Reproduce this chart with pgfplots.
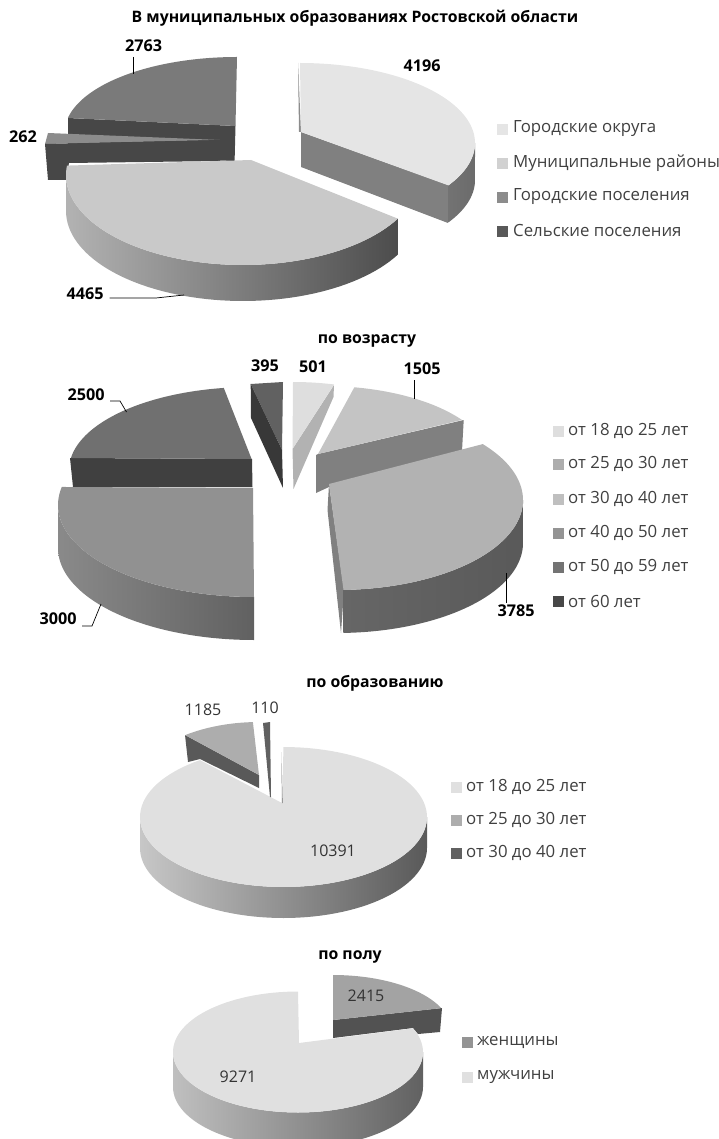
\documentclass[border=0pt]{standalone}
\usepackage{fontspec}
\setmainfont{Open Sans}
\usepackage{pgfplots}
\pgfplotsset{compat=1.18}
% top face: apex ax,ay; ellipse ex,ey,rx,ry; angles t1,t2; colour
\newcommand{\topf}[9]{\addplot[fill=#9,draw=none,domain=-0.1:1,samples=111]
 ({x<-0.05 ? #1 : #3+#5*cos(#7+(#8-#7)*max(x,0))},{x<-0.05 ? #2 : #4+#6*sin(#7+(#8-#7)*max(x,0))});}
% outer wall: ry, ex,ey,rx; t1,t2; depth; shading colours as option
\newcommand{\wall}[8]{\addplot[draw=none,#8,domain=0:2,samples=121]
 ({#2+#4*cos(#5+(#6-#5)*min(x,2-x))},{#3+#1*sin(#5+(#6-#5)*min(x,2-x))+(x>1?#7:0)});}
\newcommand{\face}[2]{\addplot[fill=#1,draw=none] coordinates {#2};}
\newcommand{\lead}[1]{\addplot[black,line width=0.7pt] coordinates {#1};}
\newcommand{\lab}[3]{\node[font=\fontsize{16.2}{18}\selectfont\bfseries] at (axis cs:#1,#2) {#3};}
\newcommand{\num}[3]{\node[font=\fontsize{16}{18}\selectfont,text=black!80] at (axis cs:#1,#2) {#3};}
\newcommand{\ttl}[3]{\node[font=\fontsize{15.8}{17}\selectfont\bfseries] at (axis cs:#1,#2) {#3};}
\newcommand{\leg}[5]{\addplot[only marks,mark=square*,mark size=5pt,color=#4,mark options={draw=none,fill=#4}] coordinates {(#1,#3)};
 \node[font=\fontsize{16.8}{18}\selectfont,anchor=west,text=black!75,inner sep=0pt] at (axis cs:#2,#3) {#5};}
\begin{document}
\begin{tikzpicture}
\path[use as bounding box] (0,0) rectangle (719pt,1139pt);
\begin{axis}[at={(0,0)},anchor=south west,scale only axis,width=719pt,height=1139pt,xmin=0,xmax=719,ymin=0,ymax=1139,y dir=reverse,hide axis]
% ---- Pie 1
\face{black!72}{(68,118)(235.5,126)(234.6,161)(68,156)}
\topf{235.5}{126}{237}{133}{172.5}{76}{191.4}{270}{black!52}
\face{black!45}{(48,133)(220,140)(45,144)}
\face{black!72}{(45,144)(220,140)(220,161)(69,163)(66,180)(48,180)}
\wall{90}{243}{175}{177}{29}{180}{36}{left color=black!30,middle color=black!45,right color=black!70}
\topf{251}{160}{243}{175}{177}{90}{29}{186}{black!21}
\face{black!45}{(298,63)(301,132)(299,132)}
\face{black!50}{(301,132)(451,186)(448,223)(301,167)}
\wall{80}{300}{143}{175}{32}{0}{37}{left color=black!55,right color=black!58}
\topf{301}{132}{300}{143}{175}{80}{-90}{32}{black!10}
\lead{(133,57)(133,74)}
\lead{(109.5,298)(156,298)(184,295)}
\lab{422}{66}{4196}\lab{143.5}{46}{2763}\lab{23}{137}{262}\lab{85}{294}{4465}
\ttl{355}{18}{В муниципальных образованиях Ростовской области}
\leg{502}{513}{129}{black!10}{Городские округа}
\leg{502}{513}{163}{black!18}{Муниципальные районы}
\leg{502}{513}{197}{black!45}{Городские поселения}
\leg{502}{513}{231}{black!65}{Сельские поселения}
% ---- Pie 2
\face{black!75}{(70,458)(252,459)(252.5,487)(73,487)}
\topf{251.6}{459}{251}{470}{182}{83}{188.3}{261.4}{black!56}
\wall{92}{254}{505}{196}{90}{180}{43}{left color=black!46,right color=black!62}
\topf{253}{488}{254}{505}{196}{92}{90}{191.3}{black!43}
\face{black!62}{(250.7,384)(283,382)(282,450)}
\face{black!78}{(250.7,384)(282,450)(283,488)(251,418)}
\face{black!30}{(292.5,449)(334,385)(333.5,397)(293.5,489)}
\topf{292.5}{449}{293}{465}{170}{83}{270}{284}{black!13}
\face{black!50}{(318,454)(463.7,420)(462,451)(329,487)(316,493)(316,455)}
\topf{318}{454}{324}{465}{168}{79}{-79.6}{-34.8}{black!23}
\face{black!50}{(329,484)(344,590)(341,633)(327.5,510)}
\wall{90}{337}{500}{186}{88}{0}{43}{left color=black!60,right color=black!65}
\topf{329}{484}{337}{500}{186}{90}{-38.4}{88}{black!30}
\lead{(414,380)(414,399)}
\lead{(110,401)(120,401)(126.5,412)}
\lead{(82,626)(92,626)(101,604)}
\lead{(506,573)(506,603)}
\lab{265}{366}{395}\lab{313}{367}{501}\lab{422}{369}{1505}\lab{86}{395}{2500}\lab{58}{619}{3000}\lab{516}{611}{3785}
\ttl{367}{341}{по возрасту}
\leg{558}{568}{431}{black!13}{от 18 до 25 лет}
\leg{558}{568}{464}{black!32}{от 25 до 30 лет}
\leg{558}{568}{499}{black!25}{от 30 до 40 лет}
\leg{558}{568}{533}{black!42}{от 40 до 50 лет}
\leg{558}{568}{567}{black!55}{от 50 до 59 лет}
\leg{558}{568}{601}{black!72}{от 60 лет}
% ---- Pie 3
\wall{70}{283.5}{817}{143.5}{0}{180}{31}{left color=black!22,middle color=black!42,right color=black!65}
\topf{282}{803}{283.5}{817}{143.5}{70}{-90}{234.4}{black!12}
\face{black!55}{(281.5,752)(282.6,803)(281.9,803)}
\face{black!65}{(185,735)(259,775)(259,788)(200,759)(188,762)}
\topf{259}{775}{259}{790}{125}{68}{233.8}{267.2}{black!32}
\face{black!62}{(263,723)(270,722)(271,797)(270,797)}
\num{203}{710}{1185}\num{265}{708}{110}\num{333}{851}{10391}
\ttl{375}{683}{по образованию}
\leg{456}{466}{787}{black!12}{от 18 до 25 лет}
\leg{456}{466}{820}{black!32}{от 25 до 30 лет}
\leg{456}{466}{853}{black!62}{от 30 до 40 лет}
% ---- Pie 4
\face{black!68}{(333,1020)(442,1008)(440,1032)(418,1034)(413,1028)(333,1038)}
\topf{333}{1020}{333}{1030}{118}{55}{-90}{-23.4}{black!36}
\wall{60.5}{298}{1052}{125}{0}{180}{35}{left color=black!25,middle color=black!45,right color=black!62}
\topf{299}{1043}{298}{1052}{125}{60.5}{-23}{270}{black!12}
\num{366}{996}{2415}\num{238}{1077}{9271}
\ttl{350}{957}{по полу}
\leg{467}{477}{1042}{black!42}{женщины}
\leg{467}{477}{1077}{black!12}{мужчины}
\end{axis}
\end{tikzpicture}
\end{document}
